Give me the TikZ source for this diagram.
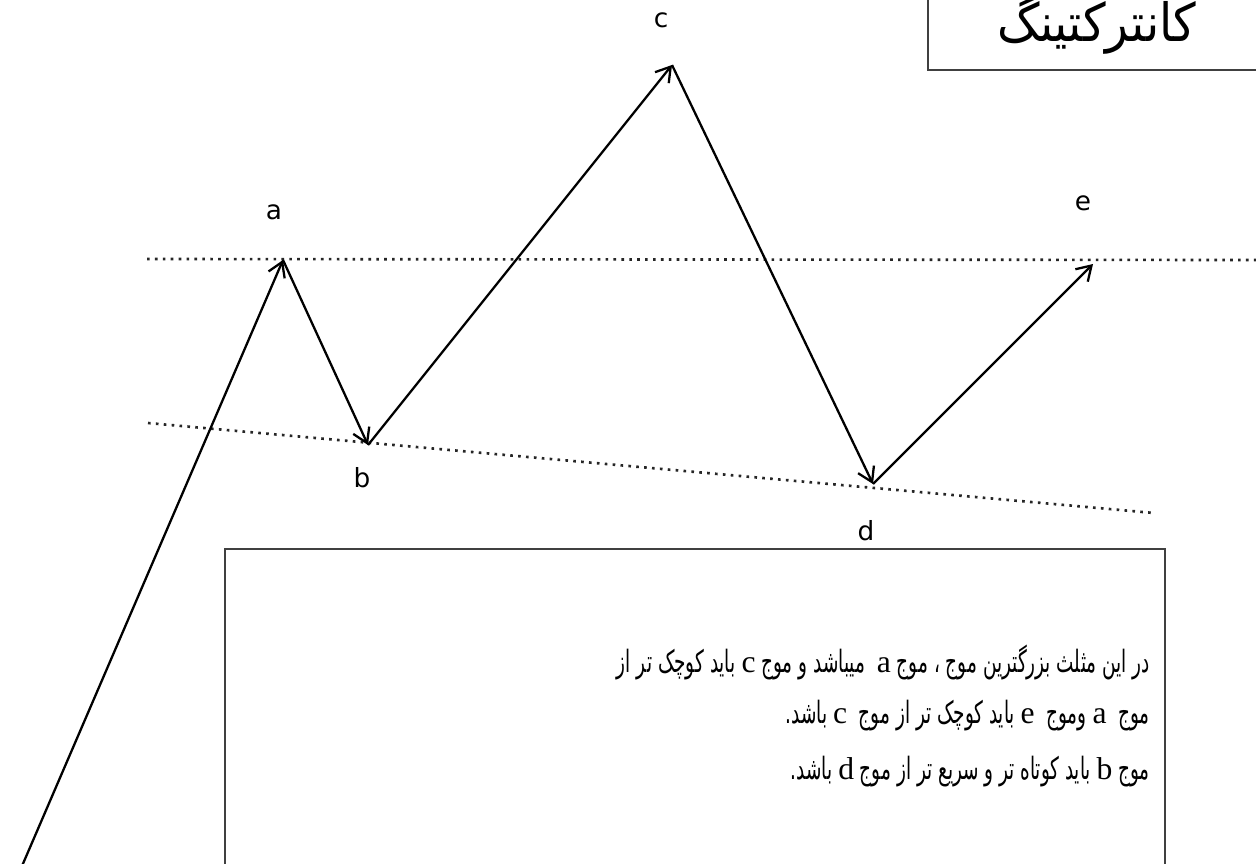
\documentclass[tikz,border=0pt]{standalone}
\usepackage{fontspec}
\usetikzlibrary{arrows.meta}
\TeXXeTstate=1
\newfontfamily\arabicfont[Script=Arabic,FakeStretch=0.6]{DejaVu Sans}
\newfontfamily\titlefont[Script=Arabic,FakeStretch=0.9]{DejaVu Sans}
\newfontfamily\labelfont{DejaVu Sans}
\newfontfamily\latinserif{Liberation Serif}
\newcommand{\lt}[1]{{\latinserif\fontsize{18}{20}\selectfont #1}}
\begin{document}
\begin{tikzpicture}[x=0.02cm,y=-0.02cm,
  wave/.style={line width=1.3pt,-{Straight Barb[length=8pt,width=10pt,line width=1.3pt]}},
  dotline/.style={line width=1.5pt,dash pattern=on 1.5pt off 3pt,black!85},
  lbl/.style={font=\labelfont\fontsize{15}{18}\selectfont,inner sep=0pt},
  boxline/.style={draw=black!75,line width=0.9pt},
  bodytext/.style={font=\arabicfont\fontsize{17.5}{20}\selectfont,anchor=east,inner sep=0pt}]
\useasboundingbox (0,0) rectangle (1256,863);
\clip (0,0) rectangle (1256,863);
\fill[white] (0,0) rectangle (1256,863);
% points
\coordinate (s) at (22,866);
\coordinate (a) at (283,260);
\coordinate (b) at (368,445);
\coordinate (c) at (672,65);
\coordinate (d) at (873,484);
\coordinate (e) at (1093,264);
% dotted lines
\coordinate (t1) at (147,259);
\coordinate (t2) at (1262,260);
\coordinate (l1) at (148,423);
\coordinate (l2) at (1154,513);
\draw[dotline] (t1) -- (t2);
\draw[dotline] (l1) -- (l2);
% waves
\draw[wave] (s) -- (a);
\draw[wave] (a) -- (b);
\draw[wave] (b) -- (c);
\draw[wave] (c) -- (d);
\draw[wave] (d) -- (e);
% labels
\node[lbl] (la) at (274,212) {a};
\node[lbl] (lb) at (362,478) {b};
\node[lbl] (lc) at (661,20) {c};
\node[lbl] (ld) at (866,531) {d};
\node[lbl] (le) at (1083,203) {e};
% title box
\draw[boxline] (928,-10) rectangle (1275,70);
\node[font=\titlefont\fontsize{30}{34}\selectfont,inner sep=0pt] (title) at (1097,24) {\beginR کانترکتینگ\endR};
% text box
\draw[boxline] (225,549) rectangle (1165,890);
\node[bodytext] (t1n) at (1150,662) {\beginR در این مثلث بزرگترین موج ، موج \lt{a}\ \ میباشد و موج \lt{c} باید کوچک تر از\endR};
\node[bodytext] (t2n) at (1150,716) {\beginR موج\ \ \lt{a} وموج\ \ \lt{e} باید کوچک تر از موج\ \ \lt{c} باشد.\endR};
\node[bodytext] (t3n) at (1150,772) {\beginR موج \lt{b} باید کوتاه تر و سریع تر از موج \lt{d} باشد.\endR};
\end{tikzpicture}
\end{document}
